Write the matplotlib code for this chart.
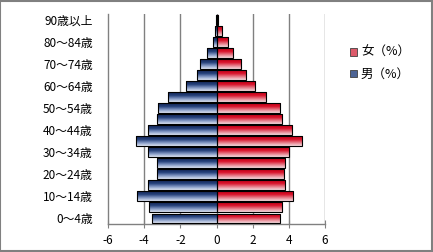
"""Population pyramid (male / female %) with Excel-style gradient bars"""

import numpy as np
import matplotlib
matplotlib.use('Agg')
from matplotlib import pyplot as plt
from matplotlib.colors import LinearSegmentedColormap
from matplotlib.patches import Rectangle, Patch

plt.rcParams['font.family'] = ['Noto Sans CJK JP', 'DejaVu Sans']

# Age groups, bottom to top
ages = ['0～4歳', '5～9歳', '10～14歳', '15～19歳', '20～24歳', '25～29歳',
        '30～34歳', '35～39歳', '40～44歳', '45～49歳', '50～54歳', '55～59歳',
        '60～64歳', '65～69歳', '70～74歳', '75～79歳', '80～84歳', '85～89歳',
        '90歳以上']
male = [3.56, 3.72, 4.39, 3.78, 3.28, 3.28, 3.78, 4.44, 3.81, 3.31,
        3.22, 2.70, 1.67, 1.09, 0.94, 0.53, 0.22, 0.10, 0.05]
female = [3.50, 3.61, 4.22, 3.78, 3.72, 3.78, 4.00, 4.72, 4.17, 3.61,
          3.50, 2.72, 2.11, 1.61, 1.35, 0.89, 0.61, 0.30, 0.08]
xticks = [-6, -4, -2, 0, 2, 4, 6]

# gradients: dark at top, light at bottom
blue_cm = LinearSegmentedColormap.from_list('b', ['#dfe6f4', '#8196c2', '#25407a', '#142658'])
red_cm = LinearSegmentedColormap.from_list('r', ['#f6dde0', '#e67d8a', '#d8142c', '#c40016'])


def gradient_fill(ax, bars, cmap):
    """ Paint each bar with a vertical gradient clipped to the bar """
    grad = np.linspace(0, 1, 64).reshape(-1, 1)
    for b in bars:
        x0, y0 = b.get_x(), b.get_y()
        w, h = b.get_width(), b.get_height()
        im = ax.imshow(grad, cmap=cmap, origin='lower', aspect='auto',
                       extent=(x0, x0 + w, y0, y0 + h), zorder=2)
        im.set_clip_path(b)
        b.set_facecolor('none')
        b.set_zorder(3)


fig = plt.figure(figsize=(4.33, 2.52), dpi=100)
ax = fig.add_axes([108 / 433, 28 / 252, 217 / 433, 210 / 252])

y = np.arange(len(ages))
mb = ax.barh(y, -np.array(male), height=0.9, edgecolor='black', linewidth=0.8)
fb = ax.barh(y, female, height=0.9, edgecolor='black', linewidth=0.8)
gradient_fill(ax, mb, blue_cm)
gradient_fill(ax, fb, red_cm)

ax.set_xlim(-6, 6)
ax.set_ylim(-0.5, len(ages) - 0.5)

# grid and axes, Excel style
for xv in xticks[1:]:
    ax.axvline(xv, color='#808080', linewidth=1, zorder=1)
for side in ['top', 'right']:
    ax.spines[side].set_visible(False)
for side in ['left', 'bottom']:
    ax.spines[side].set_color('#808080')
    ax.spines[side].set_linewidth(1)

ax.set_xticks(xticks)
ax.set_xticklabels([str(v) for v in xticks], fontsize=8.5)
ax.tick_params(axis='x', direction='inout', length=6, color='#808080', pad=4)
ax.set_yticks(y[::2])
ax.set_yticklabels(ages[::2], fontsize=8.5)
ax.tick_params(axis='y', length=0, pad=11)

# Legend
handles = [Patch(facecolor='#dc5a6a', edgecolor='#404040', linewidth=0.6),
           Patch(facecolor='#4d6495', edgecolor='#404040', linewidth=0.6)]
fig.legend(handles, ['女（%）', '男（%）'], loc='upper left',
           bbox_to_anchor=(339 / 433, 1 - 35 / 252), frameon=False,
           fontsize=9, handlelength=0.55, handleheight=0.55,
           handletextpad=0.3, labelspacing=0.7)

# Outer chart border
fig.patches.append(Rectangle((0.001, 0.002), 0.996, 0.994, transform=fig.transFigure,
                             fill=False, edgecolor='#808080', linewidth=1.5))

fig.savefig('out.png', dpi=100)
